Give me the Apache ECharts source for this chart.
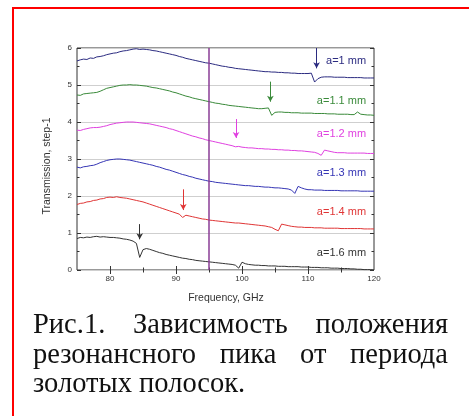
<!DOCTYPE html>
<html>
<head>
<meta charset="utf-8">
<script src="https://cdn.jsdelivr.net/npm/echarts@6/dist/echarts.min.js"></script>
<style>
  html, body { margin: 0; padding: 0; background: #fff; }
  #wrap { position: relative; width: 469px; height: 416px; overflow: hidden; background: #fff; }
  #chart { position: absolute; left: 0; top: 0; width: 469px; height: 416px; }
  #caption { position: absolute; left: 33px; top: 309px; width: 415px;
    font-family: "Liberation Serif", "Times New Roman", serif; font-size: 28.5px; line-height: 29.5px; color: #111; }
  #caption div.j { text-align: justify; text-align-last: justify; white-space: nowrap; }
  #caption div.l { text-align: left; white-space: nowrap; }
</style>
</head>
<body>
<div id="wrap">
  <div id="chart"></div>
  <div id="caption">
    <div class="j">Рис.1. Зависимость положения</div>
    <div class="j">резонансного пика от периода</div>
    <div class="l">золотых полосок.</div>
  </div>
</div>
<script>
// ---- data ----
const freq = [75,75.5,76,76.5,77,77.5,78,78.5,79,79.5,80,80.5,81,81.5,82,82.5,83,83.5,84,84.5,
  85,85.5,86,86.5,87,87.5,88,88.5,89,89.5,90,90.5,91,91.5,92,92.5,93,93.5,94,94.5,
  95,95.5,96,96.5,97,97.5,98,98.5,99,99.5,100,100.5,101,101.5,102,102.5,103,103.5,104,104.5,
  105,105.5,106,106.5,107,107.5,108,108.5,109,109.5,110,110.5,111,111.5,112,112.5,113,113.5,114,114.5,
  115,115.5,116,116.5,117,117.5,118,118.5,119,119.5,120];

const a10 = [5.65,5.68,5.70,5.69,5.73,5.72,5.76,5.77,5.79,5.82,5.84,5.86,5.87,5.90,5.92,5.93,5.95,5.97,5.98,5.96,
  5.97,5.96,5.95,5.93,5.92,5.90,5.88,5.86,5.84,5.82,5.80,5.77,5.75,5.72,5.70,5.68,5.66,5.64,5.62,5.60,
  5.59,5.57,5.55,5.53,5.51,5.50,5.48,5.47,5.45,5.44,5.43,5.42,5.41,5.40,5.39,5.38,5.37,5.36,5.36,5.35,
  5.35,5.34,5.34,5.33,5.33,5.32,5.32,5.31,5.31,5.31,5.31,5.32,5.08,5.17,5.21,5.22,5.22,5.22,5.21,5.21,
  5.21,5.21,5.20,5.20,5.20,5.20,5.20,5.19,5.19,5.19,5.19];

const a11 = [4.73,4.72,4.76,4.77,4.78,4.79,4.80,4.83,4.87,4.91,4.93,4.95,4.97,4.99,5.00,5.00,5.01,5.00,5.00,4.99,
  4.98,4.97,4.95,4.93,4.92,4.90,4.88,4.86,4.84,4.81,4.79,4.76,4.73,4.70,4.68,4.65,4.63,4.61,4.59,4.57,
  4.55,4.53,4.51,4.50,4.48,4.47,4.45,4.44,4.43,4.42,4.41,4.40,4.39,4.38,4.37,4.36,4.36,4.37,4.38,4.18,
  4.26,4.27,4.27,4.26,4.26,4.25,4.25,4.25,4.24,4.24,4.24,4.24,4.23,4.23,4.23,4.23,4.22,4.22,4.22,4.21,
  4.21,4.21,4.21,4.20,4.20,4.27,4.21,4.20,4.19,4.19,4.18];

const a12 = [3.78,3.77,3.80,3.82,3.84,3.85,3.85,3.86,3.88,3.90,3.93,3.95,3.97,3.98,3.99,4.00,4.00,4.00,3.99,3.98,
  3.97,3.96,3.95,3.93,3.91,3.89,3.87,3.85,3.82,3.80,3.77,3.74,3.71,3.68,3.65,3.62,3.60,3.57,3.55,3.52,
  3.50,3.48,3.46,3.44,3.42,3.40,3.38,3.36,3.33,3.34,3.32,3.31,3.30,3.30,3.29,3.28,3.28,3.27,3.27,3.26,
  3.26,3.25,3.25,3.24,3.24,3.23,3.23,3.22,3.22,3.21,3.20,3.19,3.18,3.15,3.10,3.24,3.22,3.20,3.18,3.17,
  3.17,3.17,3.16,3.16,3.16,3.16,3.16,3.16,3.15,3.15,3.15];

const a13 = [2.78,2.76,2.79,2.80,2.82,2.83,2.86,2.90,2.93,2.96,2.98,2.99,3.00,3.00,2.99,2.98,2.97,2.95,2.93,2.91,
  2.89,2.87,2.85,2.83,2.80,2.78,2.75,2.72,2.70,2.67,2.64,2.61,2.58,2.56,2.53,2.51,2.48,2.46,2.44,2.42,
  2.40,2.39,2.37,2.36,2.35,2.34,2.33,2.32,2.31,2.30,2.29,2.28,2.28,2.27,2.26,2.26,2.25,2.24,2.24,2.23,
  2.22,2.22,2.21,2.20,2.19,2.16,2.07,2.26,2.22,2.19,2.17,2.17,2.16,2.16,2.16,2.15,2.15,2.15,2.15,2.15,
  2.14,2.14,2.14,2.14,2.14,2.14,2.13,2.13,2.13,2.13,2.13];

const a14 = [1.77,1.80,1.81,1.84,1.85,1.88,1.89,1.92,1.93,1.96,1.97,1.96,1.98,1.96,1.95,1.94,1.92,1.90,1.88,1.86,
  1.84,1.81,1.78,1.75,1.72,1.69,1.66,1.63,1.60,1.57,1.54,1.51,1.42,1.48,1.46,1.44,1.42,1.40,1.38,1.37,
  1.35,1.34,1.33,1.32,1.31,1.30,1.29,1.28,1.27,1.27,1.26,1.25,1.24,1.23,1.22,1.21,1.20,1.19,1.17,1.15,
  1.10,1.06,1.24,1.22,1.20,1.18,1.17,1.16,1.16,1.15,1.15,1.15,1.14,1.14,1.14,1.13,1.13,1.13,1.13,1.13,
  1.12,1.12,1.12,1.12,1.12,1.12,1.12,1.11,1.11,1.11,1.11];

const a16 = [0.85,0.88,0.87,0.89,0.88,0.90,0.91,0.89,0.90,0.89,0.88,0.88,0.87,0.86,0.84,0.83,0.81,0.78,0.72,0.34,
  0.55,0.58,0.56,0.53,0.50,0.47,0.45,0.42,0.40,0.38,0.36,0.34,0.32,0.31,0.29,0.28,0.26,0.25,0.24,0.23,
  0.22,0.21,0.20,0.19,0.18,0.17,0.16,0.15,0.13,0.05,0.21,0.17,0.15,0.14,0.13,0.13,0.12,0.12,0.11,0.11,
  0.11,0.10,0.10,0.10,0.09,0.09,0.09,0.09,0.08,0.08,0.08,0.07,0.07,0.07,0.06,0.06,0.06,0.05,0.05,0.05,
  0.04,0.04,0.04,0.03,0.03,0.02,0.02,0.01,0.01,0.01,0.00];

const seriesNames = ['a=1 mm','a=1.1 mm','a=1.2 mm','a=1.3 mm','a=1.4 mm','a=1.6 mm'];
const seriesValues = [a10, a11, a12, a13, a14, a16];
const seriesColors = ['#2b2b80','#3a8a3a','#e040e0','#3535b5','#e03535','#333333'];
// label anchors (right edge of the text) in data units
const labelFreq = [118.8,118.8,118.8,118.8,118.8,118.8];
const labelVal = [5.65,4.57,3.69,2.61,1.58,0.47];
// arrows: series index, frequency, top value, bottom value
const arrowSeries = [0,1,2,4,5];
const arrowFreq = [111.3,104.3,99.1,91.1,84.5];
const arrowTop = [6.0,5.09,4.08,2.18,1.24];
const arrowBottom = [5.45,4.55,3.57,1.62,0.83];
const markerFreq = 95;

const xLabelTicks = [80,90,100,110,120];
const xMajorTicks = [80,90,100,110];
const xMinorTicks = [85,95,105,115];
const yMinorTicks = [0.5,1.5,2.5,3.5,4.5,5.5];

// ---- chart ----
const chart = echarts.init(document.getElementById('chart'), null, {renderer:'canvas'});
const FONT = '"Liberation Sans", Arial, sans-serif';
const G = {left:77, top:48, width:297, height:222};

const series = seriesValues.map((vals, si) => {
  const s = {
    name: seriesNames[si], type:'line', xAxisIndex:0, yAxisIndex:0,
    data: freq.map((f, i) => [f, vals[i]]),
    showSymbol:false, symbol:'none', silent:true,
    lineStyle:{color:seriesColors[si], width:1},
    markPoint:{
      silent:true, symbol:'circle', symbolSize:0,
      label:{show:true, position:'left', distance:0, color:seriesColors[si], fontSize:11, fontFamily:FONT,
        formatter: seriesNames[si]},
      data:[{coord:[labelFreq[si], labelVal[si]]}]
    }
  };
  const mlData = [];
  arrowSeries.forEach((as, k) => {
    if (as === si) mlData.push([{coord:[arrowFreq[k], arrowTop[k]]},{coord:[arrowFreq[k], arrowBottom[k]]}]);
  });
  if (mlData.length) {
    s.markLine = {silent:true, symbol:['none','arrow'], symbolSize:[5,6], label:{show:false},
      lineStyle:{color:seriesColors[si], width:1, type:'solid'}, emphasis:{disabled:true}, data: mlData};
  }
  return s;
});
// vertical marker line at 95 GHz
series.push({
  type:'line', xAxisIndex:0, yAxisIndex:0, data:[], silent:true,
  markLine:{silent:true, symbol:['none','none'], label:{show:false}, emphasis:{disabled:true},
    lineStyle:{color:'#8a3c96', width:1.5, type:'solid'}, data:[{xAxis: markerFreq}]}
});

const axisCommonX = {type:'value', min:75, max:120, axisLine:{show:false}, splitLine:{show:false}};
const axisCommonY = {type:'value', min:0, max:6, axisLine:{show:false}};

const option = {
  animation:false,
  backgroundColor:'#fff',
  textStyle:{fontFamily:FONT},
  grid:[
    Object.assign({show:true, borderColor:'#333', borderWidth:1, backgroundColor:'transparent'}, G),
    Object.assign({show:false}, G)
  ],
  xAxis:[
    Object.assign({}, axisCommonX, {gridIndex:0, position:'bottom',
      axisTick:{show:true, inside:true, length:4, lineStyle:{color:'#333'}, customValues:xMajorTicks},
      axisLabel:{show:true, color:'#333', fontSize:8, margin:5, fontFamily:FONT, customValues:xLabelTicks}}),
    Object.assign({}, axisCommonX, {gridIndex:0, position:'top',
      axisTick:{show:true, inside:true, length:4, lineStyle:{color:'#333'}, customValues:xMajorTicks},
      axisLabel:{show:false}}),
    Object.assign({}, axisCommonX, {gridIndex:1, position:'bottom',
      axisTick:{show:true, inside:true, length:2.5, lineStyle:{color:'#333'}, customValues:xMinorTicks},
      axisLabel:{show:false}}),
    Object.assign({}, axisCommonX, {gridIndex:1, position:'top',
      axisTick:{show:true, inside:true, length:2.5, lineStyle:{color:'#333'}, customValues:xMinorTicks},
      axisLabel:{show:false}})
  ],
  yAxis:[
    Object.assign({}, axisCommonY, {gridIndex:0, position:'left', interval:1,
      axisTick:{show:true, inside:true, length:4, lineStyle:{color:'#333'}},
      axisLabel:{show:true, color:'#333', fontSize:8, margin:5, fontFamily:FONT},
      splitLine:{show:true, lineStyle:{color:'#cfcfcf', width:1}}}),
    Object.assign({}, axisCommonY, {gridIndex:0, position:'right', interval:1,
      axisTick:{show:true, inside:true, length:4, lineStyle:{color:'#333'}},
      axisLabel:{show:false}, splitLine:{show:false}}),
    Object.assign({}, axisCommonY, {gridIndex:1, position:'left',
      axisTick:{show:true, inside:true, length:2.5, lineStyle:{color:'#333'}, customValues:yMinorTicks},
      axisLabel:{show:false}, splitLine:{show:false}}),
    Object.assign({}, axisCommonY, {gridIndex:1, position:'right',
      axisTick:{show:true, inside:true, length:2.5, lineStyle:{color:'#333'}, customValues:yMinorTicks},
      axisLabel:{show:false}, splitLine:{show:false}})
  ],
  graphic:[
    {type:'rect', silent:true, shape:{x:13, y:8, width:480, height:430},
      style:{fill:'none', stroke:'#ff0000', lineWidth:2}, z:100},
    {type:'text', silent:true, x:226, y:298,
      style:{text:'Frequency, GHz', fontSize:10.5, fontFamily:FONT, fill:'#333', textAlign:'center', textVerticalAlign:'middle'}},
    {type:'text', silent:true, x:47, y:166, rotation:Math.PI/2,
      style:{text:'Transmission, step-1', fontSize:10.5, fontFamily:FONT, fill:'#333', textAlign:'center', textVerticalAlign:'middle'}}
  ],
  series: series
};
chart.setOption(option);
</script>
</body>
</html>
